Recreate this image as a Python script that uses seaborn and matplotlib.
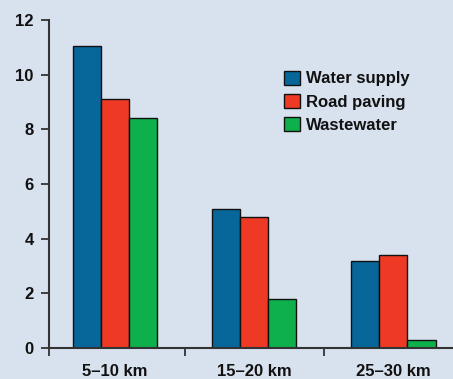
import matplotlib
matplotlib.use("Agg")
import matplotlib.pyplot as plt
import seaborn as sns
import pandas as pd
from matplotlib.patches import Patch

distances = ["5–10 km", "15–20 km", "25–30 km"]
services = ["Water supply", "Road paving", "Wastewater"]
water_supply = [11.05, 5.1, 3.2]
road_paving = [9.1, 4.8, 3.4]
wastewater = [8.4, 1.8, 0.28]
colors = ["#07679b", "#ee3a24", "#0db04b"]
bg = "#d8e1ee"

rows = []
for name, vals in zip(services, [water_supply, road_paving, wastewater]):
    for d, v in zip(distances, vals):
        rows.append({"distance": d, "service": name, "value": v})
df = pd.DataFrame(rows)

sns.set_style("white")
plt.rcParams["font.family"] = ["Liberation Sans", "DejaVu Sans"]
plt.rcParams["font.weight"] = "bold"

fig = plt.figure(figsize=(4.53, 3.79), dpi=100, facecolor=bg)
ax = fig.add_axes([49 / 453, 31 / 379, 1 - 49 / 453, 328 / 379])
ax.set_facecolor(bg)

sns.barplot(data=df, x="distance", y="value", hue="service", order=distances,
            hue_order=services, palette=colors, width=0.605, gap=0,
            edgecolor="#111111", linewidth=1.0, saturation=1, ax=ax, legend=False)

x_left = -0.474
ax.set_xlim(x_left, 2.428)
ax.set_ylim(0, 12)
ax.set_yticks([0, 2, 4, 6, 8, 10, 12])
ax.set_xlabel("")
ax.set_ylabel("")

for side in ["top", "right"]:
    ax.spines[side].set_visible(False)
for side in ["left", "bottom"]:
    ax.spines[side].set_color("#333333")
    ax.spines[side].set_linewidth(1.5)
ax.spines["left"].set_bounds(0, 12)

ax.tick_params(axis="y", left=True, length=6, width=1.3, color="#333333", pad=5,
               labelsize=12, labelcolor="#111111", direction="out")
ax.set_xticks([x_left, 0.5, 1.5])
ax.set_xticklabels([])
ax.tick_params(axis="x", bottom=True, length=6, width=1.3, color="#333333",
               direction="out")
for i, lab in enumerate(distances):
    ax.text(i, -0.58, lab, ha="center", va="top", fontsize=12,
            fontweight="bold", color="#111111")
for lab in ax.get_yticklabels():
    lab.set_fontweight("bold")

handles = [Patch(facecolor=c, edgecolor="#111111", linewidth=1.0) for c in colors]
leg = fig.legend(handles, services, loc="upper left",
                 bbox_to_anchor=(277 / 453, 1 - 64 / 379), frameon=False,
                 fontsize=12, handlelength=1.0, handleheight=0.9,
                 handletextpad=0.35, labelspacing=0.45, borderaxespad=0)
for t in leg.get_texts():
    t.set_fontweight("bold")
    t.set_color("#111111")

fig.savefig("out.png", dpi=100, facecolor=bg)
